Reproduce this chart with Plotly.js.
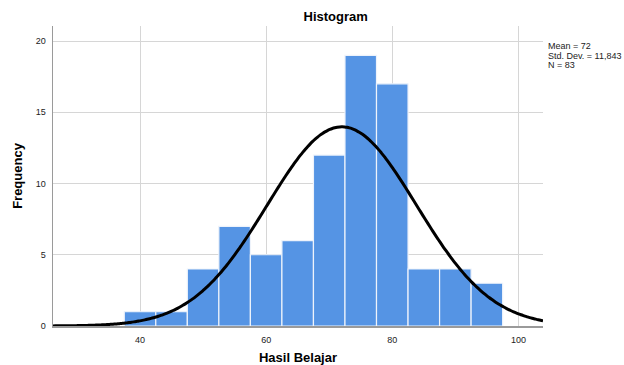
<!DOCTYPE html>
<html>
<head>
<meta charset="utf-8">
<script src="https://cdn.plot.ly/plotly-3.0.1.min.js"></script>
<style>html,body{margin:0;padding:0;background:#fff;}#chart{width:624px;height:365px;}</style>
</head>
<body>
<div id="chart"></div>
<script>
// Bin centers (width 5) and frequencies
const binCenters = [40, 45, 50, 55, 60, 65, 70, 75, 80, 85, 90, 95];
const frequencies = [1, 1, 4, 7, 5, 6, 12, 19, 17, 4, 4, 3];
const binWidth = 5;
// Summary statistics shown in the chart
const mean = 72;
const stdDev = 11.843;
const nCount = 83;
const statLabels = ["Mean = 72", "Std. Dev. = 11,843", "N = 83"];
const xTicks = [40, 60, 80, 100];
const yTicks = [0, 5, 10, 15, 20];

const xMin = 26.2, xMax = 103.9;
// Fitted normal curve scaled to counts
const curveX = [];
const curveY = [];
const steps = 200;
for (let i = 0; i <= steps; i++) {
  const x = xMin + (xMax - xMin) * i / steps;
  const z = (x - mean) / stdDev;
  curveX.push(x);
  curveY.push(nCount * binWidth * Math.exp(-0.5 * z * z) / (stdDev * Math.sqrt(2 * Math.PI)));
}

const font = "Liberation Sans, Arial, sans-serif";

const data = [
  {
    type: "bar",
    x: binCenters,
    y: frequencies,
    width: binWidth,
    marker: {color: "#5594e4", line: {color: "#eef3fb", width: 1.2}},
    hoverinfo: "x+y",
    showlegend: false
  },
  {
    type: "scatter",
    mode: "lines",
    x: curveX,
    y: curveY,
    line: {color: "#000000", width: 3, shape: "spline"},
    hoverinfo: "skip",
    showlegend: false
  }
];

const layout = {
  width: 624,
  height: 365,
  margin: {l: 53, r: 81, t: 25.5, b: 39, pad: 0},
  paper_bgcolor: "#ffffff",
  plot_bgcolor: "#ffffff",
  bargap: 0,
  showlegend: false,
  title: {
    text: "<b>Histogram</b>",
    font: {family: font, size: 13, color: "#000"},
    x: 360 / 624, xref: "paper", xanchor: "center",
    y: 1 - 16 / 365, yanchor: "middle", yref: "container"
  },
  xaxis: {
    range: [xMin, xMax],
    tickvals: xTicks,
    ticktext: xTicks.map(String),
    showgrid: true,
    gridcolor: "#d6d6d6",
    gridwidth: 1,
    zeroline: false,
    showline: true,
    linecolor: "#9a9a9a",
    linewidth: 1.5,
    ticks: "",
    ticklabelstandoff: 5,
    tickfont: {family: font, size: 9, color: "#222"},
    title: {text: "<b>Hasil Belajar</b>", font: {family: font, size: 13, color: "#000"}, standoff: 13}
  },
  yaxis: {
    range: [0, 21.06],
    tickvals: yTicks,
    ticktext: yTicks.map(String),
    showgrid: true,
    gridcolor: "#d6d6d6",
    gridwidth: 1,
    zeroline: false,
    showline: true,
    linecolor: "#9a9a9a",
    linewidth: 1.5,
    ticks: "",
    ticklabelstandoff: 4,
    tickfont: {family: font, size: 9, color: "#222"},
    title: {text: "<b>Frequency</b>", font: {family: font, size: 13, color: "#000"}, standoff: 10}
  },
  annotations: statLabels.map((t, i) => ({
    text: t,
    xref: "paper", yref: "paper",
    x: 1, xshift: 3,
    y: 1, yshift: -(20 + i * 9.6),
    xanchor: "left", yanchor: "middle",
    showarrow: false,
    font: {family: font, size: 9, color: "#222"}
  }))
};

Plotly.newPlot("chart", data, layout, {displayModeBar: false, staticPlot: true});
</script>
</body>
</html>
